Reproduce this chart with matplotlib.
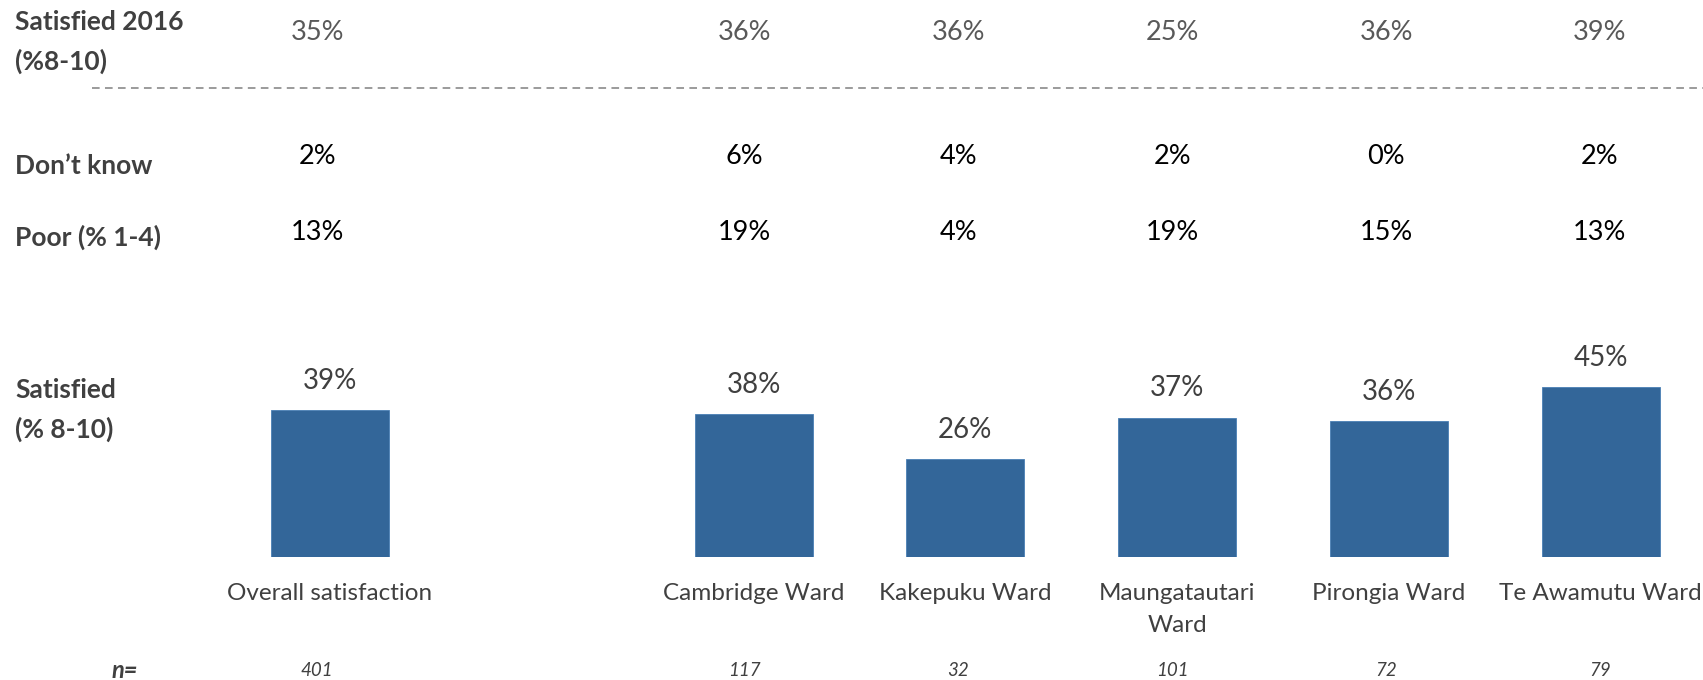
import matplotlib
matplotlib.use('Agg')
import matplotlib.pyplot as plt
import matplotlib.transforms as mtransforms

plt.rcParams['font.family'] = ['Lato', 'DejaVu Sans']

# satisfaction by ward (% 8-10), with comparison rows
categories = ['Overall satisfaction', '', 'Cambridge Ward', 'Kakepuku Ward',
              'Maungatautari\nWard', 'Pirongia Ward', 'Te Awamutu Ward']
satisfied = [39, None, 38, 26, 37, 36, 45]
satisfied_2016 = [35, None, 36, 36, 25, 36, 39]
dont_know = [2, None, 6, 4, 2, 0, 2]
poor = [13, None, 19, 4, 19, 15, 13]
n_sizes = [401, None, 117, 32, 101, 72, 79]

BAR = '#336699'
LABEL = '#404040'

W, H = 1703, 680
fig = plt.figure(figsize=(W / 100, H / 100), dpi=100)

# bar area: baseline 557px from top, 3.77px per percentage point
px_per_slot = 211.8
x0 = 330
bottom_px = 557
top_px = 300
ax = fig.add_axes([0, (H - bottom_px) / H, 1, (bottom_px - top_px) / H])
ax.set_xlim(-x0 / px_per_slot, (W - x0) / px_per_slot)
ax.set_ylim(0, (bottom_px - top_px) / 3.77)
for s in ax.spines.values():
    s.set_visible(False)
ax.tick_params(left=False, labelleft=False, bottom=False)

pos = [i for i, v in enumerate(satisfied) if v is not None]
vals = [satisfied[i] for i in pos]
bars = ax.bar(pos, vals, width=0.557, color=BAR, edgecolor='#4a7fb5', linewidth=0.6)
for b, v in zip(bars, vals):
    ax.annotate(f'{v}%', (b.get_x() + b.get_width() / 2, v), xytext=(0, 21),
                textcoords='offset points', ha='center', va='center',
                fontsize=20, color=LABEL)

ax.set_xticks(pos)
ax.set_xticklabels([categories[i] for i in pos], fontsize=17.5, color=LABEL,
                   linespacing=1.68)
ax.tick_params(axis='x', pad=15)

# text rows above and below the bars
tr = mtransforms.blended_transform_factory(ax.transData, fig.transFigure)


def fy(px):
    return 1 - px / H


def text_x(i):
    return -0.061 + 1.0094 * i


def row(values, y_px, fmt, **kw):
    for i, v in enumerate(values):
        if v is None:
            continue
        fig.text(text_x(i), fy(y_px), fmt.format(v), transform=tr,
                 ha='center', va='center', **kw)


row(satisfied_2016, 33, '{}%', fontsize=19.5, color='#595959')
row(dont_know, 157, '{}%', fontsize=19.5, color='black')
row(poor, 232, '{}%', fontsize=19.5, color='black')
row(n_sizes, 670, '{}', fontsize=13.5, color=LABEL, style='italic')

lab = dict(fontsize=19, fontweight='bold', color=LABEL, ha='left', va='center',
           linespacing=1.65)
fig.text(15 / W, fy(42), 'Satisfied 2016\n(%8-10)', **lab)
fig.text(15 / W, fy(166), 'Don\u2019t know', **lab)
fig.text(15 / W, fy(237), 'Poor (% 1-4)', **lab)
fig.text(15 / W, fy(410), 'Satisfied\n(% 8-10)', **lab)
fig.text(138 / W, fy(670), 'n=', fontsize=17, fontweight='bold', style='italic',
         color=LABEL, ha='right', va='center')

fig.add_artist(plt.Line2D([92 / W, 1], [fy(88), fy(88)], color='#808080',
                          linewidth=1.1, linestyle=(0, (5, 3.5))))

fig.savefig('out.png', dpi=100)
